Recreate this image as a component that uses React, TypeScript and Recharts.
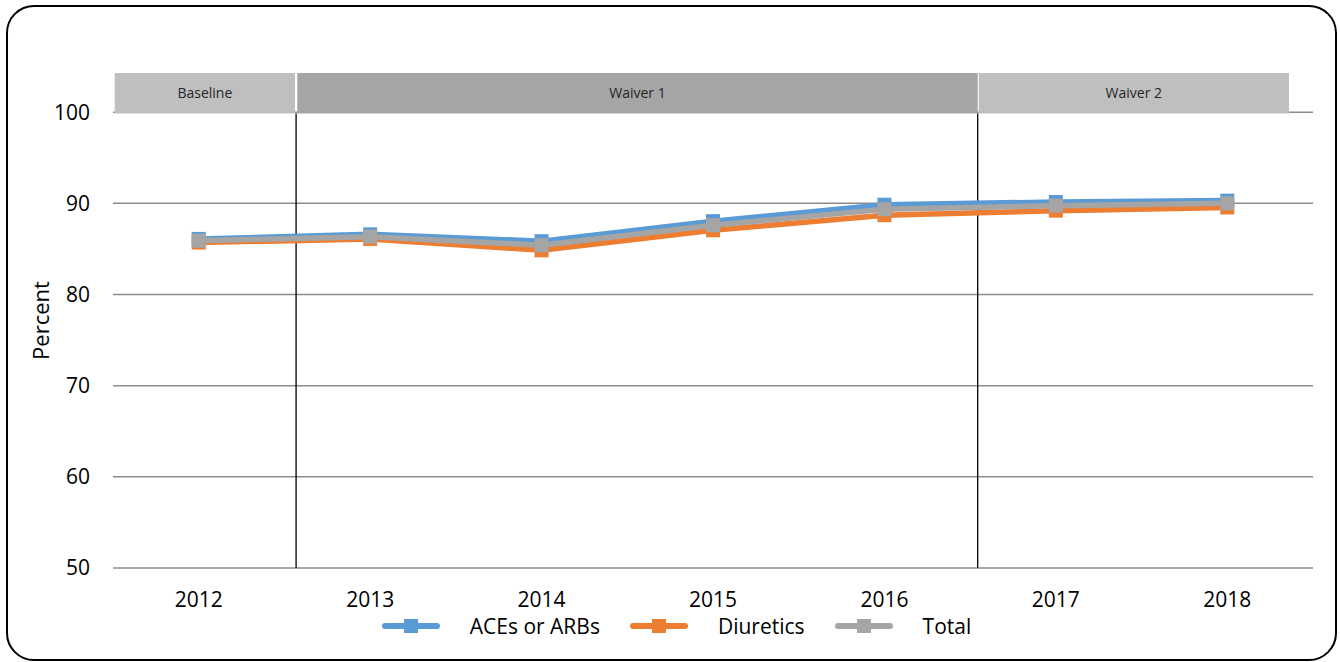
import {
  CartesianGrid,
  Legend,
  Line,
  LineChart,
  ReferenceArea,
  ReferenceLine,
  XAxis,
  YAxis,
} from "recharts"

const YEARS = ["2012", "2013", "2014", "2015", "2016", "2017", "2018"]

const ACES_OR_ARBS = [86.1, 86.6, 85.85, 88.05, 89.85, 90.15, 90.3]
const DIURETICS = [85.7, 86.1, 84.85, 87.05, 88.7, 89.2, 89.55]
const TOTAL = [85.9, 86.35, 85.4, 87.6, 89.35, 89.75, 90.0]

const Y_TICKS = [50, 60, 70, 80, 90, 100]

// phase bands, in x-axis index units
const PHASE_NAMES = ["Baseline", "Waiver 1", "Waiver 2"]
const PHASE_START = [-0.49, 0.575, 4.55]
const PHASE_END = [0.562, 4.544, 6.36]
const PHASE_FILL = ["#bfbfbf", "#a5a5a5", "#bfbfbf"]
const PHASE_DIVIDERS = [0.568, 4.544]

const SERIES = [
  { key: "ace", name: "ACEs or ARBs", color: "#5b9bd5" },
  { key: "diur", name: "Diuretics", color: "#ed7d31" },
  { key: "total", name: "Total", color: "#a5a5a5" },
]

const data = YEARS.map((_, i) => ({
  x: i,
  ace: ACES_OR_ARBS[i],
  diur: DIURETICS[i],
  total: TOTAL[i],
}))

const FONT = "'Open Sans', 'Noto Sans', sans-serif"

function squareDot(color: string) {
  return (props: any) => {
    const { cx, cy, index } = props
    if (cx == null || cy == null) return <g key={index} />
    return <rect key={index} x={cx - 7} y={cy - 7} width={14} height={14} fill={color} />
  }
}

function LegendContent() {
  return (
    <div style={{ display: "flex", justifyContent: "center", alignItems: "center", height: 34, paddingLeft: 40, fontFamily: FONT, fontSize: 21, color: "#000" }}>
      {SERIES.map((s, i) => (
        <div key={s.key} style={{ display: "flex", alignItems: "center", marginRight: i < SERIES.length - 1 ? 30 : 0 }}>
          <svg width={58} height={16} style={{ marginRight: 30 }}>
            <line x1={3} y1={8} x2={55} y2={8} stroke={s.color} strokeWidth={6} strokeLinecap="round" />
            <rect x={22} y={1} width={14} height={14} fill={s.color} />
          </svg>
          <span>{s.name}</span>
        </div>
      ))}
    </div>
  )
}

export default function App() {
  return (
    <div style={{ position: "absolute", left: 0, top: 0, width: 1340, height: 662, background: "#fff", overflow: "hidden" }}>
      <div
        style={{
          position: "absolute",
          left: 6,
          top: 5,
          width: 1331,
          height: 656,
          border: "2px solid #000",
          borderRadius: 28,
          boxSizing: "border-box",
        }}
      />
      <div style={{ position: "absolute", left: 0, top: 0 }}>
        <LineChart width={1340} height={662} data={data} margin={{ top: 73, right: 27, bottom: 19, left: 0 }}>
          <CartesianGrid horizontal vertical={false} horizontalValues={Y_TICKS} stroke="#8c8c8c" strokeWidth={1.5} />
          <XAxis
            dataKey="x"
            type="number"
            domain={[-0.5, 6.5]}
            ticks={[0, 1, 2, 3, 4, 5, 6]}
            tickFormatter={(v) => YEARS[v] ?? ""}
            axisLine={false}
            tickLine={false}
            height={41}
            tickMargin={18}
            tick={{ fontSize: 21, fill: "#000", fontFamily: FONT }}
          />
          <YAxis
            type="number"
            domain={[50, 104.3]}
            ticks={Y_TICKS}
            allowDataOverflow
            axisLine={false}
            tickLine={false}
            width={113}
            tickMargin={17}
            tick={{ fontSize: 21, fill: "#000", fontFamily: FONT }}
            label={{ value: "Percent", angle: -90, position: "insideLeft", offset: 41, style: { fontSize: 22, fill: "#000", fontFamily: FONT, textAnchor: "middle" } }}
          />
          {PHASE_NAMES.map((name, i) => (
            <ReferenceArea
              key={name}
              x1={PHASE_START[i]}
              x2={PHASE_END[i]}
              y1={99.85}
              y2={104.3}
              fill={PHASE_FILL[i]}
              fillOpacity={1}
              stroke="none"
              ifOverflow="visible"
              label={{ value: name, position: "center", style: { fontSize: 14, fill: "#262626", fontFamily: FONT } }}
            />
          ))}
          {PHASE_DIVIDERS.map((x) => (
            <ReferenceLine
              key={x}
              segment={[
                { x, y: 50 },
                { x, y: 99.85 },
              ]}
              stroke="#000"
              strokeWidth={1.3}
              ifOverflow="visible"
            />
          ))}
          <Legend verticalAlign="bottom" content={() => <LegendContent />} />
          {SERIES.map((s) => (
            <Line
              key={s.key}
              type="linear"
              dataKey={s.key}
              name={s.name}
              stroke={s.color}
              strokeWidth={5.5}
              dot={squareDot(s.color)}
              activeDot={false}
              isAnimationActive={false}
            />
          ))}
        </LineChart>
      </div>
    </div>
  )
}
